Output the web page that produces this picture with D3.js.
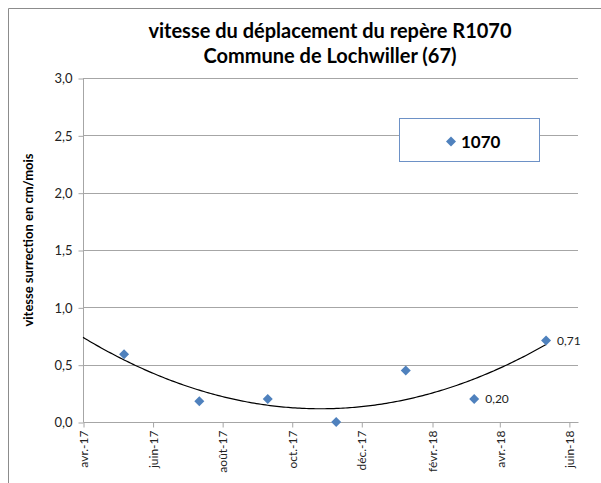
<!DOCTYPE html>
<html>
<head>
<meta charset="utf-8">
<script src="https://cdn.jsdelivr.net/npm/d3@7"></script>
<style>
  body { margin: 0; background: #fff; }
  svg { display: block; font-family: Lato, "Open Sans", sans-serif; }
</style>
</head>
<body>
<svg id="chart" width="601" height="483"></svg>
<script>
// mesures du repère 1070
var dates = ["2017-05-07", "2017-07-12", "2017-09-10", "2017-11-09", "2018-01-09", "2018-03-10", "2018-05-12"];
var vitesses = [0.59, 0.18, 0.20, 0.00, 0.45, 0.20, 0.71];
var labelled = [false, false, false, false, false, true, true];
var tickDates = ["2017-04-01", "2017-06-01", "2017-08-01", "2017-10-01", "2017-12-01", "2018-02-01", "2018-04-01", "2018-06-01"];
var tickLabels = ["avr.-17", "juin-17", "août-17", "oct.-17", "déc.-17", "févr.-18", "avr.-18", "juin-18"];
var yTicks = [0, 0.5, 1, 1.5, 2, 2.5, 3];

var svg = d3.select("#chart");
var comma = function (v, n) { return v.toFixed(n).replace(".", ","); };

var x = d3.scaleUtc()
    .domain([new Date("2017-04-01"), new Date("2018-06-09")])
    .range([83, 578]);
var y = d3.scaleLinear().domain([0, 3]).range([422, 78]);

// cadre
svg.append("path")
    .attr("d", "M8.5,483 V8.5 H601")
    .attr("fill", "none")
    .attr("stroke", "#8c8c8c");

// titre
var title = svg.append("text")
    .attr("text-anchor", "middle")
    .attr("font-weight", "bold")
    .attr("font-size", 20)
    .attr("fill", "#000");
title.append("tspan").attr("x", 330).attr("y", 38).text("vitesse du déplacement du repère R1070");
title.append("tspan").attr("x", 330).attr("y", 63).text("Commune de Lochwiller (67)");

// grille horizontale
svg.append("g").selectAll("line")
    .data(yTicks.slice(1))
    .enter().append("line")
    .attr("x1", x.range()[0]).attr("x2", x.range()[1])
    .attr("y1", d => Math.round(y(d)) + 0.5).attr("y2", d => Math.round(y(d)) + 0.5)
    .attr("stroke", "#a6a6a6");

// axe y
var yAxis = d3.axisLeft(y)
    .tickValues(yTicks)
    .tickSize(5)
    .tickPadding(6)
    .tickFormat(d => comma(d, 1));
var gy = svg.append("g").attr("transform", "translate(83.5,0.5)").call(yAxis);
gy.select(".domain").attr("stroke", "#a6a6a6").attr("d", "M0," + y(0) + "V" + y(3));
gy.selectAll(".tick line").attr("stroke", "#a6a6a6");
gy.selectAll(".tick text").attr("font-size", 13).attr("fill", "#222").attr("font-family", "Lato, sans-serif");

// axe x
var xAxis = d3.axisBottom(x)
    .tickValues(tickDates.map(d => new Date(d)))
    .tickSize(5)
    .tickFormat((d, i) => tickLabels[i]);
var gx = svg.append("g").attr("transform", "translate(0.5," + (y(0) + 0.5) + ")").call(xAxis);
gx.select(".domain").attr("stroke", "#a6a6a6").attr("d", "M" + x.range()[0] + ",0H" + x.range()[1]);
gx.selectAll(".tick line").attr("stroke", "#a6a6a6");
gx.selectAll(".tick text")
    .attr("font-size", 12)
    .attr("fill", "#222")
    .attr("font-family", "Lato, sans-serif")
    .attr("text-anchor", "end")
    .attr("dy", "0.35em")
    .attr("transform", "translate(0,8) rotate(-90)")
    .attr("x", 0)
    .attr("y", 0);

// titre axe y
svg.append("text")
    .attr("transform", "translate(33,240) rotate(-90)")
    .attr("text-anchor", "middle")
    .attr("font-weight", "bold")
    .attr("font-size", 13)
    .attr("fill", "#000")
    .text("vitesse surrection en cm/mois");

// courbe de tendance polynomiale (ordre 2)
var t0 = x.domain()[0];
var day = 864e5;
var pts = dates.map((d, i) => ({ t: (new Date(d) - t0) / day, v: vitesses[i] }));
function fitQuad(p) {
    var s = [0, 0, 0, 0, 0], r = [0, 0, 0];
    p.forEach(q => {
        for (var k = 0; k < 5; k++) s[k] += Math.pow(q.t, k);
        for (var k = 0; k < 3; k++) r[k] += q.v * Math.pow(q.t, k);
    });
    var m = [[s[0], s[1], s[2], r[0]], [s[1], s[2], s[3], r[1]], [s[2], s[3], s[4], r[2]]];
    for (var i = 0; i < 3; i++) {
        for (var j = i + 1; j < 3; j++) {
            var f = m[j][i] / m[i][i];
            for (var k = i; k < 4; k++) m[j][k] -= f * m[i][k];
        }
    }
    var c = [0, 0, 0];
    for (var i = 2; i >= 0; i--) {
        var acc = m[i][3];
        for (var k = i + 1; k < 3; k++) acc -= m[i][k] * c[k];
        c[i] = acc / m[i][i];
    }
    return c;
}
var coef = fitQuad(pts);
var tEnd = pts[pts.length - 1].t;
var trend = d3.range(0, tEnd + 1, 2).concat([tEnd]).map(t => [t, coef[0] + coef[1] * t + coef[2] * t * t]);
svg.append("path")
    .datum(trend)
    .attr("fill", "none")
    .attr("stroke", "#000")
    .attr("stroke-width", 1.2)
    .attr("d", d3.line().x(d => x(new Date(+t0 + d[0] * day))).y(d => y(d[1])));

// points
var diamond = d3.symbol().type(d3.symbolDiamond2).size(64);
svg.append("g").selectAll("path")
    .data(pts)
    .enter().append("path")
    .attr("d", diamond)
    .attr("transform", d => "translate(" + x(new Date(+t0 + d.t * day)) + "," + y(d.v) + ")")
    .attr("fill", "#4f81bd");

// étiquettes de données
svg.append("g").selectAll("text")
    .data(pts.filter((d, i) => labelled[i]))
    .enter().append("text")
    .attr("x", d => x(new Date(+t0 + d.t * day)) + 11)
    .attr("y", d => y(d.v) + 4)
    .attr("font-size", 12)
    .attr("fill", "#222")
    .text(d => comma(d.v, 2));

// légende
svg.append("rect")
    .attr("x", 399.5).attr("y", 118.5)
    .attr("width", 140).attr("height", 43)
    .attr("fill", "#fff")
    .attr("stroke", "#6d91c6");
svg.append("path")
    .attr("d", diamond)
    .attr("transform", "translate(451,141.5)")
    .attr("fill", "#4f81bd");
svg.append("text")
    .attr("x", 461).attr("y", 147.5)
    .attr("font-weight", "bold")
    .attr("font-size", 17)
    .attr("fill", "#000")
    .text("1070");
</script>
</body>
</html>
